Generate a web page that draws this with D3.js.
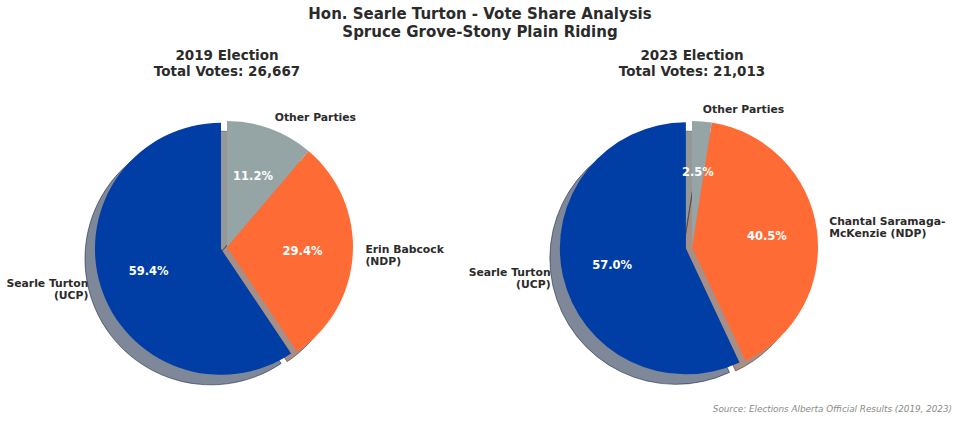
<!DOCTYPE html>
<html lang="en">
<head>
    <meta charset="UTF-8">
    <title>Vote Share</title>
    <script src="https://d3js.org/d3.v7.min.js"></script>
</head>
<body>
<div id='chart'>
    <svg></svg>
</div>
</body>

<style>
    body {
        margin: 0;
        background: #fff;
    }

    text {
        font-family: "DejaVu Sans", sans-serif;
        fill: #2b2b2b;
    }

    .title {
        font-size: 15px;
        font-weight: bold;
    }

    .subtitle {
        font-size: 13.5px;
        font-weight: bold;
    }

    .label {
        font-size: 10.8px;
        font-weight: bold;
    }

    .pct {
        font-size: 11.5px;
        font-weight: bold;
        fill: #fff;
    }

    .source {
        font-size: 8.8px;
        font-style: italic;
        fill: #8a8a8a;
    }
</style>

<script>
    // chart data
    const years = [2019, 2023];
    const totalVotes = [26667, 21013];
    const labels2019 = ['Searle Turton\n(UCP)', 'Erin Babcock\n(NDP)', 'Other Parties'];
    const labels2023 = ['Searle Turton\n(UCP)', 'Chantal Saramaga-\nMcKenzie (NDP)', 'Other Parties'];
    const shares2019 = [59.4, 29.4, 11.2];
    const shares2023 = [57.0, 40.5, 2.5];
    const explode = [0.05, 0, 0];
    const colors = ['#003DA5', '#FF6B35', '#95A5A6'];

    const width = 960;
    const height = 421;
    const radius = 126;
    const centers = [[227, 247], [692, 247]];
    const shadowOffset = [-10, 10];

    const svg = d3.select('svg')
        .attr('width', width)
        .attr('height', height)
        .style('display', 'block');

    svg.append('text')
        .attr('class', 'title')
        .attr('x', width / 2)
        .attr('y', 19)
        .attr('text-anchor', 'middle')
        .text('Hon. Searle Turton - Vote Share Analysis');

    svg.append('text')
        .attr('class', 'title')
        .attr('x', width / 2)
        .attr('y', 37)
        .attr('text-anchor', 'middle')
        .text('Spruce Grove-Stony Plain Riding');

    svg.append('text')
        .attr('class', 'source')
        .attr('x', 952)
        .attr('y', 412)
        .attr('text-anchor', 'end')
        .text('Source: Elections Alberta Official Results (2019, 2023)');

    // matplotlib style: start at 12 o'clock, run counter-clockwise
    const pie = d3.pie()
        .sort(null)
        .startAngle(0)
        .endAngle(-2 * Math.PI);

    const arc = d3.arc()
        .innerRadius(0)
        .outerRadius(radius);

    function shadowColor(c) {
        const rgb = d3.rgb(c);
        return d3.rgb(rgb.r * 0.3, rgb.g * 0.3, rgb.b * 0.3).toString();
    }

    function drawPie(i, shares, names) {
        const [cx, cy] = centers[i];
        const g = svg.append('g')
            .attr('transform', `translate(${cx},${cy})`);

        g.append('text')
            .attr('class', 'subtitle')
            .attr('text-anchor', 'middle')
            .attr('y', -187)
            .text(`${years[i]} Election`);

        g.append('text')
            .attr('class', 'subtitle')
            .attr('text-anchor', 'middle')
            .attr('y', -171)
            .text(`Total Votes: ${d3.format(',')(totalVotes[i])}`);

        const slices = pie(shares).map((d, j) => {
            const mid = (d.startAngle + d.endAngle) / 2;
            const off = explode[j] * radius;
            return Object.assign(d, {
                j: j,
                mid: mid,
                ox: Math.sin(mid) * off,
                oy: -Math.cos(mid) * off
            });
        });

        g.append('g')
            .attr('transform', `translate(${shadowOffset[0]},${shadowOffset[1]})`)
            .selectAll('path')
            .data(slices)
            .join('path')
            .attr('transform', d => `translate(${d.ox},${d.oy})`)
            .attr('d', arc)
            .attr('fill', d => shadowColor(colors[d.j]))
            .attr('fill-opacity', 0.5)
            .attr('stroke', d => shadowColor(colors[d.j]))
            .attr('stroke-opacity', 0.5)
            .attr('stroke-width', 1);

        g.append('g')
            .selectAll('path')
            .data(slices)
            .join('path')
            .attr('transform', d => `translate(${d.ox},${d.oy})`)
            .attr('d', arc)
            .attr('fill', d => colors[d.j]);

        g.append('g')
            .selectAll('text')
            .data(slices)
            .join('text')
            .attr('class', 'pct')
            .attr('text-anchor', 'middle')
            .attr('dy', '0.35em')
            .attr('x', d => d.ox + Math.sin(d.mid) * radius * 0.6)
            .attr('y', d => d.oy - Math.cos(d.mid) * radius * 0.6)
            .text(d => d.value.toFixed(1) + '%');

        const lineH = 12.2;
        g.append('g')
            .selectAll('text')
            .data(slices)
            .join('text')
            .attr('class', 'label')
            .attr('text-anchor', d => Math.sin(d.mid) > 0 ? 'start' : 'end')
            .each(function (d) {
                const lines = names[d.j].split('\n');
                const x = d.ox + Math.sin(d.mid) * radius * 1.1;
                const y = d.oy - Math.cos(d.mid) * radius * 1.1;
                const top = y - (lines.length - 1) * lineH / 2;
                d3.select(this).selectAll('tspan')
                    .data(lines)
                    .join('tspan')
                    .attr('x', x)
                    .attr('y', (l, k) => top + k * lineH)
                    .attr('dy', '0.35em')
                    .text(l => l);
            });
    }

    drawPie(0, shares2019, labels2019);
    drawPie(1, shares2023, labels2023);
</script>
</html>
